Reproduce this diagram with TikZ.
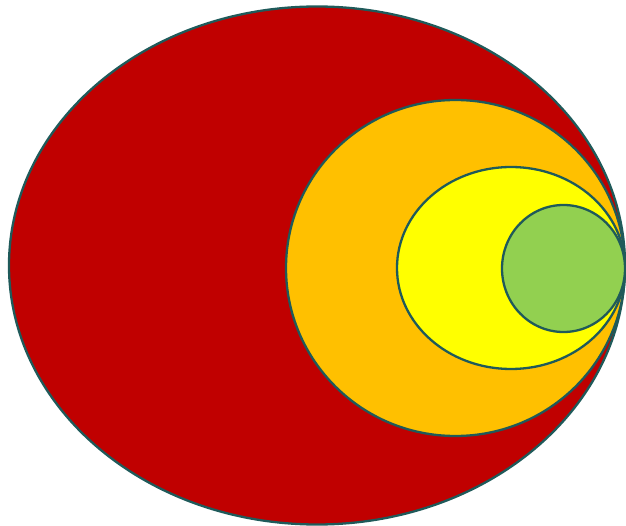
\documentclass[tikz,border=0pt]{standalone}
\begin{document}
\begin{tikzpicture}[x=1pt,y=-1pt,
  ring/.style={draw=edge, line width=2.3pt}]
\definecolor{edge}{HTML}{1F5A5A}
\definecolor{cred}{HTML}{C00000}
\definecolor{corange}{HTML}{FFC000}
\definecolor{cyellow}{HTML}{FFFF00}
\definecolor{cgreen}{HTML}{92D050}
\useasboundingbox (0,0) rectangle (626,526);
\path[ring, fill=cred] (317,265.5) ellipse [x radius=308, y radius=259];
\path[ring, fill=corange] (455.5,268) ellipse [x radius=169.5, y radius=168];
\path[ring, fill=cyellow] (511,268) ellipse [x radius=114, y radius=101];
\path[ring, fill=cgreen] (563.5,268.5) ellipse [x radius=61.5, y radius=63.5];
\end{tikzpicture}
\end{document}
